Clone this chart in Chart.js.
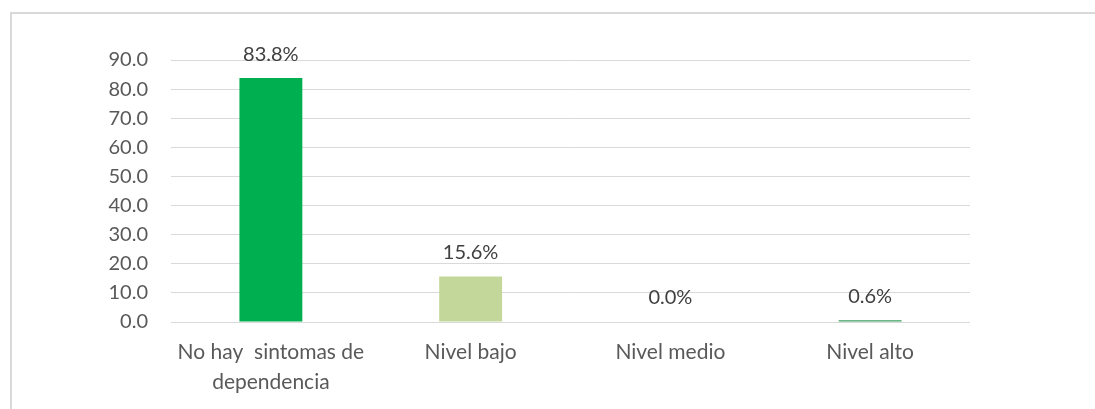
<!DOCTYPE html>
<html>
<head>
<meta charset="utf-8">
<script src="https://cdn.jsdelivr.net/npm/chart.js@4"></script>
<style>
  html, body { margin: 0; padding: 0; background: #fff; }
  #wrap { position: relative; width: 1095px; height: 409px; overflow: hidden; }
  #frame { position: absolute; left: 10px; top: 12px; width: 1200px; height: 500px; border: 2px solid #d9d9d9; box-sizing: border-box; }
  #chart { position: absolute; left: 0; top: 0; }
</style>
</head>
<body>
<div id="wrap">
  <div id="frame"></div>
  <canvas id="chart" width="1095" height="409"></canvas>
</div>
<script>
// --- data ---
const categories = [['No hay  sintomas de', 'dependencia'], 'Nivel bajo', 'Nivel medio', 'Nivel alto'];
const percentValues = [83.8, 15.6, 0.0, 0.6];
const barColors = ['#00B050', '#C4D79B', '#00B050', '#3A9E5E'];
const yTicks = [0, 10, 20, 30, 40, 50, 60, 70, 80, 90];

const fontFamily = 'Lato, "Open Sans", sans-serif';

// labels above each bar, placed from the y scale
const valueLabels = {
  id: 'valueLabels',
  afterDatasetsDraw(chart) {
    const ctx = chart.ctx;
    const meta = chart.getDatasetMeta(0);
    ctx.save();
    ctx.font = '20px ' + fontFamily;
    ctx.fillStyle = '#404040';
    ctx.textAlign = 'center';
    ctx.textBaseline = 'middle';
    meta.data.forEach((bar, i) => {
      ctx.fillText(percentValues[i].toFixed(1) + '%', bar.x, bar.y - 24);
    });
    ctx.restore();
  }
};

new Chart(document.getElementById('chart'), {
  type: 'bar',
  data: {
    labels: categories,
    datasets: [{
      data: percentValues,
      backgroundColor: barColors,
      categoryPercentage: 1,
      barPercentage: 0.315
    }]
  },
  options: {
    responsive: false,
    animation: false,
    layout: { padding: { left: 0, right: 125, top: 60, bottom: 0 } },
    plugins: { legend: { display: false }, tooltip: { enabled: false } },
    scales: {
      x: {
        grid: { display: false, drawTicks: false },
        border: { display: false },
        ticks: {
          color: '#595959',
          font: { family: fontFamily, size: 21, lineHeight: 1.4 },
          padding: 16,
          maxRotation: 0
        },
        afterFit: s => { s.height = 87; }
      },
      y: {
        min: 0,
        max: 90,
        afterBuildTicks: s => { s.ticks = yTicks.map(v => ({ value: v })); },
        grid: { color: '#d9d9d9', lineWidth: 1, drawTicks: false },
        border: { display: false },
        ticks: {
          color: '#595959',
          font: { family: fontFamily, size: 20 },
          padding: 23,
          callback: v => Number(v).toFixed(1)
        },
        afterFit: s => { s.width = 171; }
      }
    }
  },
  plugins: [valueLabels]
});
</script>
</body>
</html>
